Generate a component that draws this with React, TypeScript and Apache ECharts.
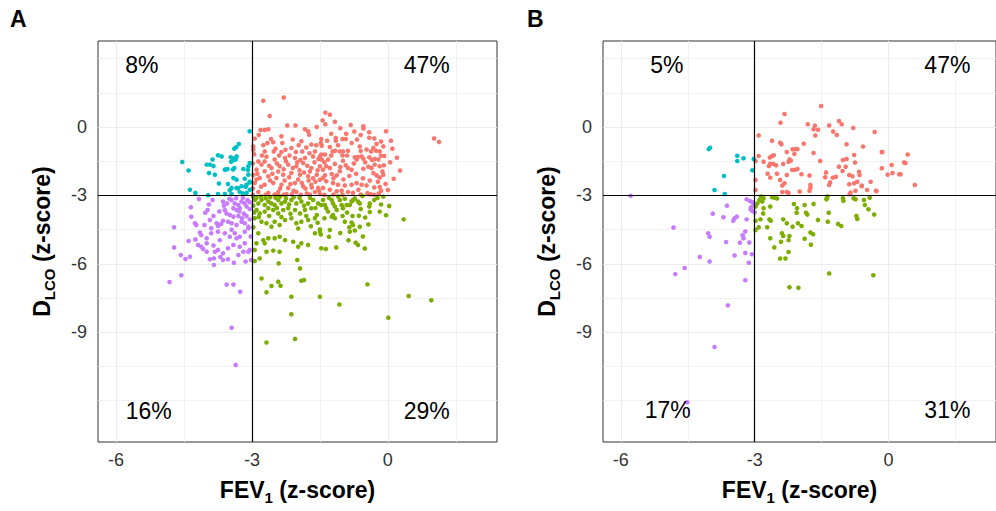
import React, { useEffect, useRef } from "react";
import * as echarts from "echarts";

// ---------- DATA ----------
const xTicks = [-6, -3, 0];
const yTicks = [-9, -6, -3, 0];
const xMinor = [-4.5, -1.5, 1.5];
const yMinor = [3, 1.5, -1.5, -4.5, -7.5, -10.5, -12];
const cutX = -3;
const cutY = -3;
const X_MIN = -6.4;
const X_MAX = 2.41;
const Y_MIN = -13.81;
const Y_MAX = 3.77;

const pctA = ["8%", "47%", "16%", "29%"];
const pctB = ["5%", "47%", "17%", "31%"];

const redA: number[][] = [
  [-2.75,1.15],[-2.30,1.29],[-2.61,0.48],[-1.38,0.63],[-1.28,0.54],[-1.17,0.23],[-1.44,0.29],[-1.38,0.12],[-2.22,0.07],[-2.04,0.07],
  [-1.83,-0.10],[-1.76,-0.19],[-1.74,-0.34],[-1.57,0.00],[-0.82,0.09],[-0.74,-0.20],[-0.54,0.03],[-0.54,-0.07],[-0.41,-0.23],[-0.41,-0.47],
  [-0.04,-0.19],[0.07,-0.60],[1.02,-0.50],[1.13,-0.66],[0.27,-1.91],[0.13,-2.27],[0.00,-2.76],[-0.18,-2.63],[-0.08,-1.27],[-0.15,-0.64],
  [-0.18,-1.07],[-0.32,-0.92],[-2.81,-0.13],[-2.72,-0.13],[-2.64,-0.10],
  [-2.94,-0.51],[-2.58,-0.53],[-2.53,-0.67],[-2.35,-0.41],[-2.75,-0.80],[-2.52,-1.07],[-2.72,-1.07],[-2.35,-1.10],[-2.13,-0.92],[-1.91,-0.63],
  [-1.69,-0.77],[-1.89,-1.07],[-1.61,-1.07],[-1.47,-0.53],[-1.48,-0.70],
  [-2.86,-1.51],[-2.79,-1.65],[-2.72,-1.51],[-2.50,-1.43],[-2.27,-1.36],[-2.05,-1.36],[-1.83,-1.36],[-1.65,-1.29],[-1.47,-1.21],
  [-2.90,-1.87],[-2.72,-1.94],[-2.57,-1.80],[-2.39,-1.72],[-2.20,-1.65],[-2.02,-1.72],[-1.87,-1.58],[-1.69,-1.80],[-1.50,-1.72],
  [-2.83,-2.24],[-2.64,-2.16],[-2.46,-2.24],[-2.31,-2.09],[-2.13,-2.02],[-1.94,-2.09],[-1.76,-2.16],[-1.57,-2.09],[-1.43,-2.24],
  [-2.94,-2.46],[-2.72,-2.53],[-2.53,-2.46],[-2.35,-2.53],[-2.20,-2.67],[-2.05,-2.46],[-1.87,-2.60],[-1.69,-2.53],[-1.54,-2.67],
  [-2.86,-2.85],[-2.64,-2.89],[-2.42,-2.85],[-2.24,-2.94],[-2.02,-2.85],[-1.79,-2.91],[-1.61,-2.85],
  [-2.95,-1.20],[-2.88,-2.05],[-2.80,-2.62],[-2.68,-1.30],[-2.60,-2.35],[-2.55,-2.05],[-2.45,-1.60],[-2.42,-1.95],[-2.38,-2.70],[-2.30,-1.85],
  [-2.28,-2.35],[-2.25,-1.50],[-2.18,-2.20],[-2.15,-2.50],[-2.10,-1.80],[-2.08,-2.80],[-2.00,-1.55],[-1.98,-2.30],[-1.95,-1.90],[-1.90,-2.45],
  [-1.85,-2.00],[-1.82,-2.70],[-1.78,-1.70],[-1.75,-2.35],[-1.72,-1.95],[-1.68,-2.65],[-1.65,-2.25],[-1.62,-1.55],[-1.60,-2.40],[-1.55,-1.90],[-1.52,-2.80],
  [-2.97,-0.85],[-2.90,-2.30],[-2.85,-0.35],[-2.78,-1.25],[-2.66,-0.70],[-2.62,-1.70],[-2.48,-0.95],[-2.44,-2.95],[-2.40,-1.25],[-2.33,-0.70],
  [-2.26,-1.00],[-2.17,-1.25],[-2.10,-0.55],[-2.03,-1.10],[-1.97,-0.80],[-1.93,-1.45],[-1.80,-0.90],[-1.73,-1.15],[-1.58,-0.80],[-1.53,-1.40],
  [-1.34,-0.60],[-1.15,-0.48],[-1.15,-0.60],[-1.00,-0.53],[-0.93,-0.53],[-0.80,-0.70],[-1.46,-0.82],[-1.28,-0.88],[-1.22,-1.07],[-1.16,-1.04],
  [-1.06,-1.07],[-0.99,-1.07],[-0.88,-1.04],[-0.47,-0.99],[-0.37,-1.07],[-0.26,-1.04],[-0.15,-1.26],[-1.39,-1.21],[-1.32,-1.42],[-1.50,-1.29],
  [-1.46,-1.43],[-0.73,-1.33],[-0.66,-1.31],[-0.58,-1.29],[-0.54,-1.39],[-0.69,-1.43],[-0.41,-1.33],[-0.29,-1.40],[-0.21,-1.43],
  [-1.43,-1.87],[-1.36,-1.72],[-1.28,-1.80],[-1.17,-1.62],[-0.99,-1.48],[-0.93,-1.68],[-0.88,-1.80],[-0.80,-1.87],[-0.54,-1.83],[-0.43,-1.74],
  [-0.36,-1.80],[-0.29,-1.65],[-0.18,-1.72],[-0.09,-1.68],[-0.32,-2.02],[-0.25,-2.12],[-0.18,-2.21],[-0.10,-2.09],[-1.06,-1.94],[-1.13,-2.12],
  [-1.24,-2.06],[-1.39,-2.12],[-1.50,-2.31],[-1.36,-2.38],[-1.21,-2.46],[-1.10,-2.53],[-0.95,-2.56],[-0.80,-2.53],[-0.69,-2.46],[-0.58,-2.53],
  [-0.47,-2.56],[-1.43,-2.67],[-1.28,-2.75],[-1.13,-2.82],[-1.02,-2.79],[-0.88,-2.85],[-0.77,-2.89],[-1.50,-2.94],
  [-1.40,-1.55],[-1.25,-1.25],[-1.20,-2.25],[-1.05,-1.75],[-0.98,-2.30],[-0.90,-1.25],[-0.85,-2.15],[-0.75,-1.60],[-0.70,-2.05],[-0.65,-2.75],
  [-0.60,-1.05],[-0.55,-2.25],[-0.50,-1.55],[-0.45,-2.90],[-0.40,-2.35],[-0.35,-1.45],[-0.30,-2.65],[-0.25,-0.75],[-0.22,-2.40],[-0.12,-1.95],
  [-0.05,-2.50],[0.05,-1.55],[0.10,-0.95],[-1.10,-0.80],[-1.00,-1.25],[-0.62,-0.85],[-0.68,-0.55],[-0.92,-0.30],[-1.25,-0.30],[-1.05,-0.05],
  [-0.60,-0.35],[-0.30,-0.50],[-0.10,-0.85],[0.20,-1.35],[-0.38,-2.95],[-0.20,-2.92],[-0.15,-2.80],
  [-2.98,-2.98],[-2.70,-2.97],[-2.50,-2.96],[-2.30,-2.97],[-2.12,-2.95],[-1.92,-2.97],[-1.72,-2.96],[-1.40,-2.97],[-1.20,-2.96],[-1.00,-2.97],
  [-0.60,-2.96],[-0.30,-2.97],[-2.98,-2.70],[-2.97,-2.10],[-2.98,-1.60],[-2.97,-1.00],
];

const cyanA: number[][] = [
  [-3.05,-0.19],[-3.29,-0.75],[-3.35,-0.89],[-3.39,-0.95],[-3.34,-1.29],[-3.47,-1.33],[-3.41,-1.46],[-3.36,-1.43],[-3.67,-1.29],[-3.75,-1.24],
  [-3.87,-1.43],[-4.00,-1.65],[-3.93,-1.65],[-3.85,-1.71],[-4.54,-1.53],[-4.40,-1.91],[-3.95,-2.02],[-3.82,-2.09],[-3.60,-1.87],[-3.54,-1.84],
  [-3.39,-1.80],[-3.19,-1.84],[-3.08,-1.72],[-3.05,-1.58],[-3.41,-2.24],[-3.34,-2.31],[-3.16,-2.27],[-3.08,-2.09],[-3.73,-2.48],[-3.53,-2.50],
  [-3.45,-2.67],[-3.34,-2.67],[-3.23,-2.60],[-3.12,-2.53],[-3.05,-2.43],[-4.37,-2.75],[-4.25,-2.89],[-3.97,-2.99],[-3.75,-2.94],[-3.60,-2.94],
  [-3.45,-2.94],[-3.27,-2.85],[-3.12,-2.89],[-3.05,-2.75],[-3.41,-1.38],[-3.46,-1.52],[-3.57,-1.86],[-3.42,-1.86],[-3.05,-2.40],[-3.14,-2.62],
  [-3.31,-2.69],[-3.49,-2.77],[-3.20,-2.91],[-3.09,-1.89],
];

const purpleA: number[][] = [
  [-4.17,-3.16],[-3.87,-3.20],[-3.64,-3.27],[-3.45,-3.20],[-3.38,-3.35],[-3.30,-3.42],[-3.23,-3.27],[-3.16,-3.35],[-3.12,-3.49],[-3.41,-3.56],
  [-3.34,-3.64],[-3.27,-3.56],[-3.60,-3.64],[-3.56,-3.79],[-3.49,-3.86],[-3.41,-3.93],[-4.35,-3.52],[-3.98,-3.64],[-4.03,-3.76],[-4.34,-3.93],
  [-4.26,-4.22],[-4.23,-4.30],[-3.93,-4.08],[-3.78,-4.22],[-3.75,-4.34],[-3.90,-4.44],[-3.64,-4.11],[-3.53,-4.15],[-3.45,-4.22],[-3.34,-4.30],
  [-3.23,-4.15],[-3.16,-4.22],[-3.08,-4.37],[-4.15,-4.63],[-4.12,-4.74],[-4.00,-4.88],[-3.90,-4.66],[-3.75,-4.59],[-3.71,-4.96],[-3.60,-4.66],
  [-3.49,-4.81],[-3.38,-4.66],[-3.27,-4.81],[-3.16,-4.59],[-3.08,-4.44],[-4.72,-4.40],[-4.72,-5.28],[-4.25,-4.93],[-4.19,-5.17],[-4.12,-5.25],
  [-4.00,-5.10],[-4.00,-5.47],[-3.82,-5.47],[-3.75,-5.39],[-3.64,-5.54],[-3.53,-5.32],[-3.41,-5.17],[-3.34,-4.88],[-3.27,-5.25],[-3.16,-5.10],
  [-3.08,-5.47],[-3.05,-5.39],[-3.19,-5.47],[-4.57,-5.61],[-4.47,-5.79],[-4.37,-5.69],[-3.93,-5.80],[-3.84,-5.76],[-3.84,-6.05],[-3.64,-5.83],
  [-3.53,-5.80],[-3.30,-5.61],[-3.14,-5.90],[-3.02,-5.83],[-4.82,-6.80],[-4.56,-6.50],[-3.56,-6.91],[-3.41,-6.91],[-3.26,-7.22],[-3.45,-8.80],
  [-3.36,-10.43],
  [-3.20,-3.10],[-3.35,-3.12],[-3.50,-3.15],[-3.10,-3.20],[-3.28,-3.70],[-3.18,-3.80],[-3.05,-3.60],[-3.62,-3.45],[-3.72,-3.70],[-3.85,-3.90],
  [-4.05,-4.30],[-3.68,-4.25],[-3.22,-4.00],[-3.05,-4.05],[-3.12,-3.90],[-3.45,-4.50],[-3.85,-5.20],[-4.08,-5.35],[-3.70,-5.70],[-3.40,-5.95],
  [-3.05,-3.30],[-3.03,-4.80],[-3.55,-3.35],[-3.95,-3.40],[-4.40,-5.00],[-3.30,-3.90],
];

const greenA: number[][] = [
  [-1.43,-3.20],[-1.39,-3.42],[-1.36,-3.56],[-1.32,-3.71],[-1.24,-3.20],[-1.21,-3.35],[-1.17,-3.49],[-1.13,-3.64],[-1.21,-3.86],[-1.24,-3.93],
  [-1.17,-4.00],[-1.06,-3.20],[-1.02,-3.42],[-0.99,-3.56],[-0.91,-3.42],[-0.84,-3.42],[-0.80,-3.27],[-0.77,-3.20],[-0.73,-3.13],[-0.66,-3.27],
  [-0.62,-3.35],[-0.56,-3.03],[-0.40,-3.35],[-0.41,-3.49],[-0.23,-3.11],[0.03,-3.46],[-0.18,-3.71],[-0.04,-3.87],[-0.40,-3.73],[-0.50,-3.97],
  [-0.64,-3.89],[-0.78,-3.90],[-1.00,-3.90],[-0.80,-4.19],[-0.77,-4.30],[-0.85,-4.40],[-0.84,-4.59],[-0.73,-4.54],[-0.62,-4.37],[-0.43,-4.27],
  [-1.28,-4.52],[-1.50,-4.49],[-1.48,-4.71],[-1.30,-4.81],[-1.37,-5.35],[-1.14,-5.28],[-0.87,-4.97],[-0.71,-5.07],[-0.66,-5.17],[-0.51,-5.33],
  [0.35,-4.05],[-0.45,-6.90],[-1.50,-7.44],[-1.07,-7.78],[0.46,-7.41],[0.96,-7.60],[0.01,-8.36],
  [-2.94,-3.20],[-2.86,-3.35],[-2.79,-3.20],[-2.72,-3.42],[-2.64,-3.27],[-2.57,-3.35],[-2.50,-3.42],[-2.42,-3.20],[-2.35,-3.35],[-2.27,-3.27],
  [-2.13,-3.20],[-2.02,-3.35],[-1.91,-3.27],[-1.76,-3.35],[-1.65,-3.20],[-1.54,-3.35],[-1.47,-3.42],[-2.90,-3.64],[-2.83,-3.79],[-2.72,-3.71],
  [-2.64,-3.56],[-2.53,-3.64],[-2.42,-3.79],[-2.31,-3.64],[-2.20,-3.56],[-2.05,-3.64],[-1.94,-3.79],[-1.83,-3.64],[-1.69,-3.56],[-1.57,-3.86],
  [-2.94,-4.00],[-2.79,-4.15],[-2.68,-4.22],[-2.57,-4.37],[-2.50,-4.15],[-2.39,-4.30],[-2.27,-4.08],[-2.13,-4.00],[-2.02,-4.22],[-1.91,-4.15],
  [-1.76,-4.08],[-1.61,-4.00],[-2.86,-4.66],[-2.75,-4.96],[-2.72,-5.10],[-2.64,-4.88],[-2.50,-4.88],[-2.39,-4.81],[-2.27,-4.96],[-2.09,-5.03],
  [-1.98,-5.25],[-1.91,-5.10],[-1.76,-5.17],[-1.61,-4.66],[-1.50,-4.59],[-1.47,-5.32],[-2.94,-5.39],[-2.83,-5.76],[-2.68,-5.47],[-2.53,-5.42],
  [-2.39,-5.47],[-2.41,-5.98],[-2.00,-5.83],[-1.94,-6.20],[-2.94,-5.88],[-2.79,-6.64],[-2.57,-6.97],[-2.42,-6.78],[-2.37,-6.96],[-2.68,-7.25],
  [-2.13,-7.44],[-1.91,-6.74],[-1.85,-6.71],[-2.13,-8.21],[-2.68,-9.45],[-2.05,-9.29],
  [-2.97,-3.05],[-2.90,-3.10],[-2.80,-3.05],[-2.70,-3.12],[-2.60,-3.08],[-2.48,-3.10],[-2.38,-3.05],[-2.25,-3.12],[-2.18,-3.40],[-2.08,-3.08],
  [-1.95,-3.10],[-1.85,-3.45],[-1.72,-3.10],[-1.60,-3.55],[-2.97,-3.45],[-2.95,-3.75],[-2.85,-3.95],[-2.62,-3.90],[-2.45,-3.55],[-2.35,-3.95],
  [-2.15,-3.80],[-1.80,-3.90],[-1.98,-4.45],[-1.70,-4.35],[-1.30,-3.10],[-1.10,-3.05],[-0.95,-3.15],[-0.90,-3.75],[-0.60,-3.60],[-0.30,-3.20],
  [-0.15,-3.40],[-0.10,-3.05],[-1.55,-4.20],[-1.40,-4.00],[-0.95,-4.15],[-1.05,-4.65],[-2.97,-4.40],[-2.90,-5.10],[-0.55,-4.80],
];

const redB: number[][] = [
  [-1.51,0.92],[-2.33,0.57],[-2.42,0.19],[-1.81,0.12],[-1.65,0.06],[-1.68,-0.10],[-1.58,-0.12],[-1.64,-0.37],[-1.33,0.07],[-1.11,0.26],
  [-1.05,0.12],[-0.79,-0.04],[-1.24,-0.20],[-1.16,-0.35],[-0.94,-0.76],[-0.31,-0.22],[-0.57,-0.86],[-0.15,-1.10],[0.07,-1.67],[0.27,-2.07],
  [0.09,-2.02],[-0.15,-1.81],[0.35,-1.56],[-2.91,-0.37],[-2.61,-0.60],[-2.43,-0.69],[-2.40,-0.76],[-1.90,-0.73],[-2.28,-1.10],[-2.15,-0.98],
  [-2.09,-0.97],[-2.04,-0.97],[-2.11,-1.18],[-1.68,-1.14],[-1.53,-1.49],[-2.80,-1.52],[-2.91,-1.27],[-2.98,-1.49],[-2.66,-1.34],[-2.61,-1.27],
  [-2.57,-1.24],[-2.65,-1.61],[-2.68,-1.71],[-2.58,-1.62],[-2.52,-1.68],[-2.22,-1.42],[-2.19,-1.47],[-2.24,-1.52],[-2.36,-1.62],[-2.16,-1.88],
  [-2.10,-1.88],[-2.04,-1.84],[-2.71,-2.05],[-2.65,-2.22],[-2.50,-2.05],[-2.28,-2.10],[-2.43,-2.32],[-2.33,-2.47],[-1.95,-2.07],[-1.77,-2.13],
  [-1.75,-2.54],[-1.75,-2.66],[-2.38,-2.57],[-2.38,-2.85],[-2.24,-2.89],[-2.28,-2.85],[-1.99,-2.83],[-1.77,-2.80],[-1.40,-1.99],[-1.42,-2.20],
  [-1.25,-2.22],[-1.18,-2.18],[-1.11,-1.74],[-1.03,-1.93],[-1.02,-1.45],[-0.94,-1.40],[-0.77,-1.23],[-0.75,-1.56],[-0.96,-1.74],[-0.88,-2.10],
  [-0.81,-2.16],[-0.88,-2.51],[-0.77,-2.47],[-0.70,-2.40],[-0.60,-2.57],[-0.66,-1.96],[-0.65,-2.10],[-0.48,-2.76],[-0.28,-2.80],[-0.74,-2.80],
  [-0.85,-2.88],[-0.40,-2.40],[-2.98,-2.32],[-2.98,-2.76],[-1.31,-2.43],[-1.33,-2.54],
  [0.43,-1.21],[0.38,-1.58],[0.24,-2.07],[0.59,-2.54],[-0.02,-2.09],[-0.14,-1.10],[-0.27,-2.81],[-0.60,-2.60],[-0.87,-2.95],
];

const cyanB: number[][] = [
  [-4.03,-0.97],[-4.00,-0.91],[-3.39,-1.26],[-3.39,-1.49],[-3.25,-1.37],[-3.02,-1.40],[-3.05,-1.90],[-3.69,-2.15],[-3.90,-2.76],[-3.67,-2.94],
];

const purpleB: number[][] = [
  [-5.78,-3.02],[-3.18,-3.17],[-3.62,-3.45],[-3.94,-3.80],[-3.70,-3.96],[-3.45,-4.00],[-3.40,-3.93],[-3.48,-4.11],[-3.18,-4.05],[-3.08,-3.52],
  [-3.09,-3.61],[-3.06,-3.67],[-3.02,-3.38],[-4.82,-4.41],[-4.04,-4.66],[-4.01,-4.81],[-3.64,-5.04],[-3.33,-5.07],[-3.25,-4.88],[-3.27,-4.75],
  [-3.21,-4.58],[-3.12,-5.06],[-4.23,-5.70],[-4.01,-5.90],[-3.45,-5.63],[-3.21,-5.52],[-3.06,-5.58],[-3.13,-5.95],[-4.57,-6.18],[-4.78,-6.45],
  [-3.21,-6.72],[-3.60,-7.82],[-3.90,-9.65],[-4.51,-12.07],[-3.05,-3.30],[-3.10,-3.25],[-3.00,-3.75],
];

const greenB: number[][] = [
  [-2.86,-3.05],[-2.89,-3.20],[-2.94,-3.35],[-2.98,-3.49],[-2.83,-3.27],[-2.61,-3.08],[-2.50,-3.13],[-2.65,-3.49],[-2.80,-3.56],[-2.81,-3.79],
  [-2.98,-4.11],[-2.87,-4.05],[-2.91,-4.40],[-2.98,-4.52],[-2.72,-4.40],[-2.67,-4.05],[-2.64,-4.11],[-2.36,-4.05],[-2.28,-4.22],[-2.15,-4.37],
  [-2.03,-4.22],[-1.95,-4.34],[-2.12,-3.38],[-2.05,-3.56],[-2.06,-3.76],[-1.88,-3.42],[-1.85,-3.76],[-1.82,-3.84],[-1.68,-3.38],[-1.58,-4.08],
  [-1.37,-3.05],[-1.39,-3.17],[-1.34,-3.76],[-1.36,-4.15],[-1.13,-4.25],[-1.06,-4.34],[-1.01,-3.23],[-0.74,-3.17],[-0.72,-3.90],[-0.70,-4.03],
  [-0.55,-3.20],[-0.53,-3.42],[-0.45,-3.61],[-0.32,-3.84],[-2.65,-4.88],[-2.56,-5.28],[-2.39,-4.66],[-2.36,-4.78],[-2.41,-5.03],[-2.22,-4.78],
  [-2.24,-4.96],[-2.43,-5.77],[-2.31,-5.77],[-2.24,-5.48],[-1.88,-4.90],[-1.75,-4.63],[-1.69,-4.70],[-1.74,-5.16],[-1.33,-6.42],[-0.34,-6.50],
  [-2.22,-7.03],[-2.02,-7.05],[-2.80,-3.12],[-2.55,-3.10],[-1.38,-3.10],[-1.02,-3.12],[-0.78,-3.12],[-0.42,-3.10],
];

// ---------- STYLE ----------
const FONT = '"Liberation Sans", Arial, Helvetica, sans-serif';
const COL_RED = "#F8766D";
const COL_GREEN = "#7CAE00";
const COL_CYAN = "#00BFC4";
const COL_PURPLE = "#C77CFF";

// percent label placements (data coordinates) per panel
const labelPosA = [[-5.43, 2.72], [0.86, 2.72], [-5.28, -12.45], [0.86, -12.45]];
const labelPosB = [[-4.97, 2.72], [1.32, 2.72], [-4.95, -12.41], [1.32, -12.41]];

const gridLeft = [98, 603];

function buildPanel(i: number, sets: number[][][], pcts: string[], pos: number[][]) {
  const gridLines: any[] = [];
  xTicks.forEach((v) => gridLines.push({ xAxis: v, lineStyle: { color: "#EBEBEB", width: 1.1, type: "solid" } }));
  yTicks.forEach((v) => gridLines.push({ yAxis: v, lineStyle: { color: "#EBEBEB", width: 1.1, type: "solid" } }));
  xMinor.forEach((v) => gridLines.push({ xAxis: v, lineStyle: { color: "#EFEFEF", width: 0.8, type: "solid" } }));
  yMinor.forEach((v) => gridLines.push({ yAxis: v, lineStyle: { color: "#EFEFEF", width: 0.8, type: "solid" } }));

  const colors = [COL_RED, COL_GREEN, COL_CYAN, COL_PURPLE];
  const series: any[] = [
    {
      type: "scatter",
      xAxisIndex: i,
      yAxisIndex: i,
      data: [],
      silent: true,
      z: 1,
      markLine: {
        silent: true,
        z: 1,
        symbol: ["none", "none"],
        label: { show: false },
        emphasis: { disabled: true },
        data: gridLines,
      },
    },
  ];
  sets.forEach((d, k) => {
    series.push({
      type: "scatter",
      xAxisIndex: i,
      yAxisIndex: i,
      data: d,
      symbolSize: 4.6,
      itemStyle: { color: colors[k], opacity: 1 },
      silent: true,
      z: 2,
    });
  });
  series.push({
    type: "scatter",
    xAxisIndex: i,
    yAxisIndex: i,
    data: [],
    silent: true,
    z: 5,
    markLine: {
      silent: true,
      z: 5,
      symbol: ["none", "none"],
      label: { show: false },
      emphasis: { disabled: true },
      lineStyle: { color: "#000", width: 1.2, type: "solid" },
      data: [{ xAxis: cutX }, { yAxis: cutY }],
    },
  });
  series.push({
    type: "scatter",
    xAxisIndex: i,
    yAxisIndex: i,
    symbolSize: 0,
    silent: true,
    z: 6,
    data: pcts.map((t, k) => ({ value: pos[k], name: t })),
    label: {
      show: true,
      position: "inside",
      formatter: (p: any) => p.name,
      fontFamily: FONT,
      fontSize: 23,
      color: "#000",
      textBorderWidth: 0,
      opacity: 1,
    },
  });
  return series;
}

const nameRich = {
  b: { fontFamily: FONT, fontSize: 23, fontWeight: "bold", color: "#000" },
  s: { fontFamily: FONT, fontSize: 15, fontWeight: "bold", color: "#000", padding: [16, 0, 0, 0] },
};

export default function App() {
  const ref = useRef<HTMLDivElement>(null);
  useEffect(() => {
    if (!ref.current) return;
    const chart = echarts.init(ref.current, undefined, { renderer: "svg" });
    const grids = [0, 1].map((i) => ({
      left: gridLeft[i],
      top: 41,
      width: 399,
      height: 401,
      show: true,
      borderColor: "#333333",
      borderWidth: 1,
      backgroundColor: "#fff",
      containLabel: false,
    }));
    const xAxes = [0, 1].map((i) => ({
      type: "value",
      gridIndex: i,
      min: X_MIN,
      max: X_MAX,
      splitLine: { show: false },
      axisLine: { show: false },
      axisTick: { show: true, customValues: xTicks, length: 3.5, lineStyle: { color: "#333", width: 1 } },
      axisLabel: { customValues: xTicks, fontFamily: FONT, fontSize: 18, color: "#333", margin: 9 },
      name: "{b|FEV}{s|1}{b| (z-score)}",
      nameLocation: "middle",
      nameGap: 32,
      nameTextStyle: { rich: nameRich },
    }));
    const yAxes = [0, 1].map((i) => ({
      type: "value",
      gridIndex: i,
      min: Y_MIN,
      max: Y_MAX,
      splitLine: { show: false },
      axisLine: { show: false },
      axisTick: { show: true, customValues: yTicks, length: 3.5, lineStyle: { color: "#333", width: 1 } },
      axisLabel: { customValues: yTicks, fontFamily: FONT, fontSize: 18, color: "#333", margin: 11 },
      name: "{b|D}{s|LCO}{b| (z-score)}",
      nameLocation: "middle",
      nameRotate: 90,
      nameGap: 41,
      nameTextStyle: { rich: nameRich },
    }));
    const series = [
      ...buildPanel(0, [redA, greenA, cyanA, purpleA], pctA, labelPosA),
      ...buildPanel(1, [redB, greenB, cyanB, purpleB], pctB, labelPosB),
    ];
    chart.setOption({
      animation: false,
      backgroundColor: "#fff",
      grid: grids,
      xAxis: xAxes,
      yAxis: yAxes,
      series,
      graphic: [
        { type: "text", left: 10, top: 7, style: { text: "A", font: `bold 23px ${FONT}`, fill: "#000" } },
        { type: "text", left: 527, top: 7, style: { text: "B", font: `bold 23px ${FONT}`, fill: "#000" } },
      ],
    });
    return () => chart.dispose();
  }, []);
  return (
    <div
      ref={ref}
      style={{ position: "fixed", left: 0, top: 0, width: 996, height: 511, background: "#fff" }}
    />
  );
}
